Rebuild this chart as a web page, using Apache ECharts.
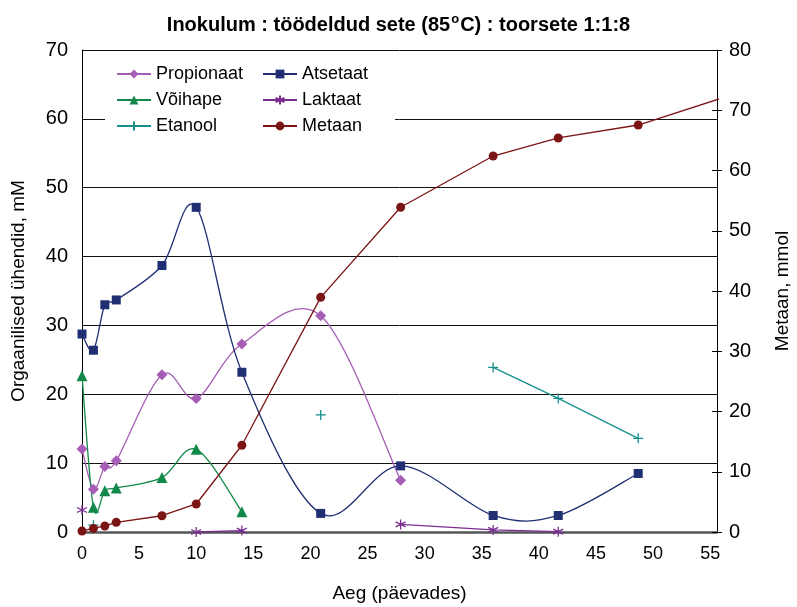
<!DOCTYPE html>
<html>
<head>
<meta charset="utf-8">
<script src="https://cdn.jsdelivr.net/npm/echarts@6/dist/echarts.min.js"></script>
<style>
  html, body { margin: 0; padding: 0; background: #ffffff; }
  #chart { width: 797px; height: 607px; }
</style>
</head>
<body>
<div id="chart"></div>
<script>
// Sampling days (päevad)
const days = [0, 1, 2, 3, 7, 10, 14, 20.9, 27.9, 36, 41.7, 48.7];

// Organic compounds, mM (null = not measured)
const propionaat = [12.05, 6.2, 9.5, 10.35, 22.85, 19.4, 27.3, 31.4, 7.5, null, null, null];
const atsetaat   = [28.75, 26.4, 33.0, 33.7, 38.7, 47.15, 23.2, 2.7, 9.6, 2.4, 2.4, 8.5];
const voihape    = [22.7, 3.6, 6.0, 6.4, 7.9, 12.0, 2.95, null, null, null, null, null];
const laktaat    = [3.2, null, null, null, null, 0, 0.2, null, 1.1, 0.3, 0.05, null];
const etanool    = [null, 1.0, null, null, null, null, null, 17.0, null, 23.9, 19.4, 13.6];

// Methane, mmol (last sample lies past the axis end)
const metaanDays = [0, 1, 2, 3, 7, 10, 14, 20.9, 27.9, 36, 41.7, 48.7, 56];
const metaan     = [0.17, 0.6, 1.0, 1.6, 2.7, 4.65, 14.4, 38.95, 53.9, 62.4, 65.4, 67.55, 72.0];

// Axis tick values
const xTicks = [0, 5, 10, 15, 20, 25, 30, 35, 40, 45, 50, 55];
const leftTicks = [0, 10, 20, 30, 40, 50, 60, 70];
const rightTicks = [0, 10, 20, 30, 40, 50, 60, 70, 80];

const FONT = '"Liberation Sans", Arial, sans-serif';

const C = {
  prop: '#A65DB5',
  ats: '#1F2F72',
  voi: '#12894A',
  lak: '#7A2D90',
  eta: '#178F8C',
  met: '#7B1515'
};

function pairs(xs, ys) {
  return xs.map((x, i) => [x, ys[i] == null ? '-' : ys[i]]);
}

// Smoothed line drawn as cardinal (Catmull-Rom) Bezier segments between
// consecutive measured samples; each data item is one segment with its neighbours.
function curveSeries(name, xs, ys, color) {
  const pts = xs.map((x, i) => (ys[i] == null ? null : [x, ys[i]]));
  const segs = [];
  for (let i = 0; i < pts.length - 1; i++) {
    if (!pts[i] || !pts[i + 1]) continue;
    const p0 = pts[i - 1] || pts[i];
    const p3 = pts[i + 2] || pts[i + 1];
    segs.push([p0[0], p0[1], pts[i][0], pts[i][1], pts[i + 1][0], pts[i + 1][1], p3[0], p3[1]]);
  }
  return {
    type: 'custom',
    name: name + ' kõver',
    yAxisIndex: 0,
    clip: true,
    silent: true,
    z: 2,
    encode: { x: [2, 4], y: [3, 5] },
    data: segs,
    renderItem: (params, api) => {
      const p0 = api.coord([api.value(0), api.value(1)]);
      const p1 = api.coord([api.value(2), api.value(3)]);
      const p2 = api.coord([api.value(4), api.value(5)]);
      const p3 = api.coord([api.value(6), api.value(7)]);
      return {
        type: 'bezierCurve',
        shape: {
          x1: p1[0], y1: p1[1], x2: p2[0], y2: p2[1],
          cpx1: p1[0] + (p2[0] - p0[0]) / 6, cpy1: p1[1] + (p2[1] - p0[1]) / 6,
          cpx2: p2[0] - (p3[0] - p1[0]) / 6, cpy2: p2[1] - (p3[1] - p1[1]) / 6
        },
        style: { stroke: color, lineWidth: 1.3, fill: null }
      };
    }
  };
}

const chart = echarts.init(document.getElementById('chart'), null, { renderer: 'canvas' });

const legendCommon = {
  orient: 'vertical',
  top: 65,
  itemGap: 8,
  itemWidth: 34,
  itemHeight: 11,
  padding: 0,
  lineStyle: { opacity: 1 },
  textStyle: { fontFamily: FONT, fontSize: 18, color: '#000' }
};

chart.setOption({
  backgroundColor: '#ffffff',
  animation: false,
  title: {
    text: '{t|Inokulum : töödeldud sete (85}{s|o}{t|C) : toorsete 1:1:8}',
    left: 'center',
    top: 8,
    textStyle: {
      rich: {
        t: { fontFamily: FONT, fontWeight: 'bold', fontSize: 20, color: '#000' },
        s: { fontFamily: FONT, fontWeight: 'bold', fontSize: 13, color: '#000', verticalAlign: 'top', padding: [0, 1, 11, 1] }
      }
    }
  },
  grid: { left: 82, right: 80, top: 50, bottom: 75, containLabel: false, outerBoundsMode: 'none' },
  graphic: {
    elements: [{
      type: 'rect',
      z: 3,
      shape: { x: 105, y: 56, width: 290, height: 84 },
      style: { fill: '#ffffff' }
    }]
  },
  legend: [
    Object.assign({}, legendCommon, { left: 116, data: ['Propionaat', 'Võihape', 'Etanool'] }),
    Object.assign({}, legendCommon, { left: 262, data: ['Atsetaat', 'Laktaat', 'Metaan'] })
  ],
  xAxis: {
    type: 'value',
    min: 0,
    max: 55.6,
    interval: 5,
    name: 'Aeg (päevades)',
    nameLocation: 'middle',
    nameGap: 52,
    nameTextStyle: { fontFamily: FONT, fontSize: 19, color: '#000' },
    axisLine: { show: true, onZero: false, lineStyle: { color: '#555', width: 2.5 } },
    axisTick: { show: false },
    splitLine: { show: false },
    axisLabel: {
      fontFamily: FONT, fontSize: 18, color: '#000', margin: 13,
      showMaxLabel: false,
      formatter: v => (xTicks.indexOf(v) >= 0 ? String(v) : '')
    }
  },
  yAxis: [
    {
      type: 'value',
      position: 'left',
      min: 0, max: 70, interval: 10,
      name: 'Orgaanilised ühendid, mM',
      nameLocation: 'middle',
      nameGap: 54,
      nameRotate: 90,
      nameTextStyle: { fontFamily: FONT, fontSize: 19, color: '#000' },
      axisLine: { show: true, lineStyle: { color: '#000', width: 1 } },
      axisTick: { show: false },
      splitLine: { show: true, lineStyle: { color: '#111', width: 1 } },
      axisLabel: {
        fontFamily: FONT, fontSize: 20, color: '#000', margin: 14,
        formatter: v => (leftTicks.indexOf(v) >= 0 ? String(v) : '')
      }
    },
    {
      type: 'value',
      position: 'right',
      min: 0, max: 80, interval: 10,
      name: 'Metaan, mmol',
      nameLocation: 'middle',
      nameGap: 56,
      nameRotate: 90,
      nameTextStyle: { fontFamily: FONT, fontSize: 19, color: '#000' },
      axisLine: { show: true, lineStyle: { color: '#000', width: 1 } },
      axisTick: { show: true, inside: false, length: 5, lineStyle: { color: '#000' } },
      splitLine: { show: false },
      axisLabel: {
        fontFamily: FONT, fontSize: 20, color: '#000', margin: 12,
        formatter: v => (rightTicks.indexOf(v) >= 0 ? String(v) : '')
      }
    },
    {
      // inner half of the crossing ticks on the methane axis
      type: 'value',
      position: 'right',
      min: 0, max: 80, interval: 10,
      axisLine: { show: false },
      axisTick: { show: true, inside: true, length: 5, lineStyle: { color: '#000' } },
      splitLine: { show: false },
      axisLabel: { show: false }
    }
  ],
  series: [
    curveSeries('Propionaat', days, propionaat, C.prop),
    curveSeries('Atsetaat', days, atsetaat, C.ats),
    curveSeries('Võihape', days, voihape, C.voi),
    {
      name: 'Propionaat', type: 'line', yAxisIndex: 0,
      data: pairs(days, propionaat),
      symbol: 'diamond', symbolSize: 11,
      itemStyle: { color: C.prop },
      lineStyle: { color: C.prop, width: 1.3, opacity: 0 },
      z: 3
    },
    {
      name: 'Atsetaat', type: 'line', yAxisIndex: 0,
      data: pairs(days, atsetaat),
      symbol: 'rect', symbolSize: 9,
      itemStyle: { color: C.ats },
      lineStyle: { color: C.ats, width: 1.3, opacity: 0 },
      z: 3
    },
    {
      name: 'Võihape', type: 'line', yAxisIndex: 0,
      data: pairs(days, voihape),
      symbol: 'triangle', symbolSize: 11,
      itemStyle: { color: C.voi },
      lineStyle: { color: C.voi, width: 1.3, opacity: 0 },
      z: 3
    },
    {
      name: 'Laktaat', type: 'line', yAxisIndex: 0,
      data: pairs(days, laktaat),
      symbol: 'path://M5,0L5,10M0.7,2.5L9.3,7.5M9.3,2.5L0.7,7.5', symbolSize: 10,
      itemStyle: { color: C.lak, borderColor: C.lak, borderWidth: 1.3 },
      lineStyle: { color: C.lak, width: 1.3 },
      z: 3
    },
    {
      name: 'Etanool', type: 'line', yAxisIndex: 0,
      data: pairs(days, etanool),
      symbol: 'path://M5,0L5,10M0,5L10,5', symbolSize: 10,
      itemStyle: { color: C.eta, borderColor: C.eta, borderWidth: 1.3 },
      lineStyle: { color: C.eta, width: 1.3 },
      z: 3
    },
    {
      name: 'Metaan', type: 'line', yAxisIndex: 1,
      data: pairs(metaanDays, metaan),
      symbol: 'circle', symbolSize: 9,
      clip: true,
      itemStyle: { color: C.met },
      lineStyle: { color: C.met, width: 1.3 },
      z: 3
    }
  ]
});
</script>
</body>
</html>
